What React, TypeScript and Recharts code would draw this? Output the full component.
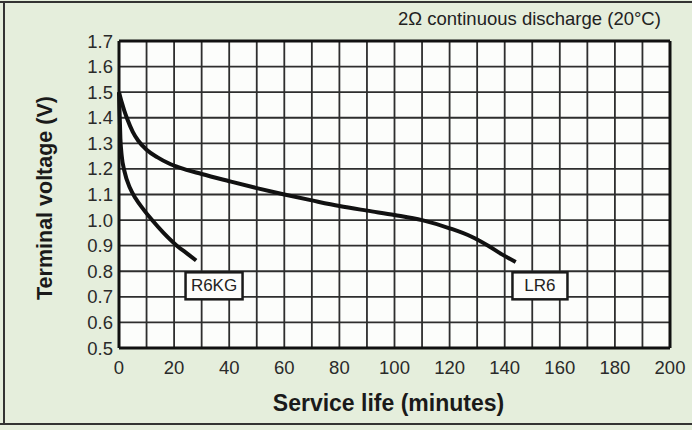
import {
  CartesianGrid,
  Line,
  LineChart,
  ReferenceDot,
  ReferenceLine,
  XAxis,
  YAxis,
} from "recharts";

// service life (minutes) vs terminal voltage (V)
const lr6Minutes = [0, 1, 2, 3, 5, 7, 10, 14, 18, 22, 30, 40, 50, 60, 70, 80, 90, 100, 110, 120, 128, 134, 139, 144];
const lr6Volts = [1.5, 1.46, 1.425, 1.395, 1.345, 1.31, 1.275, 1.245, 1.222, 1.205, 1.18, 1.152, 1.125, 1.1, 1.077, 1.055, 1.037, 1.02, 1.0, 0.968, 0.935, 0.9, 0.866, 0.836];

const r6kgMinutes = [0, 0.5, 1, 2, 4, 6, 9, 12, 16, 21, 25, 28];
const r6kgVolts = [1.5, 1.32, 1.25, 1.19, 1.125, 1.085, 1.04, 1.0, 0.952, 0.9, 0.867, 0.842];

const xTicks = [0, 10, 20, 30, 40, 50, 60, 70, 80, 90, 100, 110, 120, 130, 140, 150, 160, 170, 180, 190, 200];
const yTicks = [0.5, 0.6, 0.7, 0.8, 0.9, 1.0, 1.1, 1.2, 1.3, 1.4, 1.5, 1.6, 1.7];

const seriesLabels = [
  { name: "R6KG", t: 34.5, v: 0.745 },
  { name: "LR6", t: 152.8, v: 0.745 },
];

const lr6 = lr6Minutes.map((t, i) => ({ t, v: lr6Volts[i] }));
const r6kg = r6kgMinutes.map((t, i) => ({ t, v: r6kgVolts[i] }));

const FONT = "'Liberation Sans', Arial, sans-serif";
const tickStyle = { fill: "#2a2a2a", fontSize: 18.5, fontFamily: FONT };

function LabelBox({ cx, cy, text }: { cx?: number; cy?: number; text: string }) {
  if (cx == null || cy == null) return null;
  const w = text.length > 3 ? 57 : 55;
  return (
    <g>
      <rect x={cx - w / 2} y={cy - 13} width={w} height={27} fill="#fdfdfb" stroke="#1a1a1a" strokeWidth={2.5} />
      <text x={cx} y={cy + 6} textAnchor="middle" fontSize={17} fontFamily={FONT} fill="#222">
        {text}
      </text>
    </g>
  );
}

export default function App() {
  return (
    <div
      style={{
        position: "absolute",
        left: 0,
        top: 0,
        width: 692,
        height: 430,
        background: "#e5eedc",
        fontFamily: FONT,
        overflow: "hidden",
      }}
    >
      <div style={{ position: "absolute", left: 0, top: 1, width: 692, height: 2, background: "#333" }} />
      <div style={{ position: "absolute", left: 3, top: 1, width: 2, height: 424, background: "#333" }} />
      <div style={{ position: "absolute", left: 0, top: 423, width: 692, height: 2, background: "#333" }} />
      <div
        style={{
          position: "absolute",
          left: 398,
          top: 8,
          fontSize: 18.5,
          color: "#222",
          whiteSpace: "nowrap",
        }}
      >
        2Ω continuous discharge (20°C)
      </div>
      <div
        style={{
          position: "absolute",
          left: 0,
          top: 390,
          width: 777,
          textAlign: "center",
          fontSize: 23,
          fontWeight: "bold",
          color: "#1a1a1a",
        }}
      >
        Service life (minutes)
      </div>
      <div
        style={{
          position: "absolute",
          left: 45,
          top: 198,
          transform: "translate(-50%, -50%) rotate(-90deg)",
          fontSize: 21.5,
          fontWeight: "bold",
          color: "#1a1a1a",
          whiteSpace: "nowrap",
        }}
      >
        Terminal voltage (V)
      </div>
      <div style={{ position: "absolute", left: 0, top: 0 }}>
        <LineChart width={692} height={430} margin={{ top: 41, right: 22, bottom: 52, left: 49 }}>
          <CartesianGrid stroke="#2e2e2e" strokeWidth={1.8} fill="#fcfdfb" />
          <XAxis
            type="number"
            dataKey="t"
            domain={[0, 200]}
            ticks={xTicks}
            interval={0}
            tickFormatter={(v: number) => (v % 20 === 0 ? String(v) : "")}
            tick={tickStyle}
            tickLine={false}
            tickMargin={7}
            height={30}
            axisLine={{ stroke: "#111", strokeWidth: 3 }}
          />
          <YAxis
            type="number"
            dataKey="v"
            domain={[0.5, 1.7]}
            ticks={yTicks}
            interval={0}
            tickFormatter={(v: number) => v.toFixed(1)}
            tick={tickStyle}
            tickLine={false}
            tickSize={4}
            tickMargin={2}
            width={70}
            axisLine={{ stroke: "#111", strokeWidth: 3 }}
          />
          <ReferenceLine y={1.7} stroke="#111" strokeWidth={3} />
          <ReferenceLine x={200} stroke="#111" strokeWidth={3} />
          <Line
            data={lr6}
            dataKey="v"
            type="monotone"
            stroke="#111"
            strokeWidth={4}
            dot={false}
            isAnimationActive={false}
          />
          <Line
            data={r6kg}
            dataKey="v"
            type="monotone"
            stroke="#111"
            strokeWidth={4}
            dot={false}
            isAnimationActive={false}
          />
          {seriesLabels.map((l) => (
            <ReferenceDot
              key={l.name}
              x={l.t}
              y={l.v}
              r={0}
              shape={(p: any) => <LabelBox cx={p.cx} cy={p.cy} text={l.name} />}
            />
          ))}
        </LineChart>
      </div>
    </div>
  );
}
